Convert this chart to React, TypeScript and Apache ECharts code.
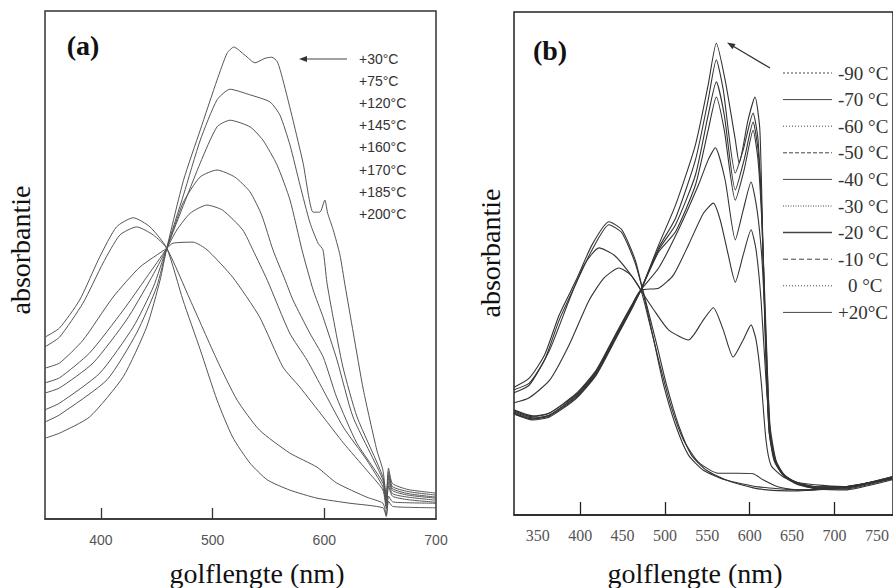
import React, { useEffect, useRef } from 'react';
import * as echarts from 'echarts';

// ---------- Panel (a): heating, wavelength (nm) vs absorbance (a.u.) ----------
const labelsA = ['+30°C', '+75°C', '+120°C', '+145°C', '+160°C', '+170°C', '+185°C', '+200°C'];
const ticksA = [400, 500, 600];
const tickLabelsA = [400, 500, 600, 700];

const a30 = [[350,15.9],[363,16.9],[390,20.1],[420,28.0],[441,37.8],[453,47.0],[459,53.3],[474,66.7],[489,76.6],[504,86.4],[513,91.7],[519,92.9],[529,91.3],[538,89.8],[547,90.7],[553,90.9],[558,90.0],[563,86.4],[572,78.5],[581,70.1],[590,60.4],[596,60.4],[600.5,62.8],[603,60.2],[608,56.9],[614,52.0],[618.5,46.1],[626,36.6],[635,25.4],[647,13.6],[652.5,9.6],[655.5,4.5],[657.5,10.0],[661,7.0],[675,5.8],[700,5.1]];
const a75 = [[350,19.1],[363,20.5],[405.5,27.4],[432,36.6],[450,45.7],[459,53.3],[474,63.8],[489,74.6],[504,82.5],[515.6,84.6],[533.5,83.5],[551.4,82.1],[560.3,79.5],[569.3,73.6],[578.3,65.7],[587.2,58.3],[594.4,54.3],[598.8,53.0],[602.4,46.5],[607.8,39.8],[616.7,29.9],[629.3,20.1],[652.5,8.3],[655.5,3.8],[657.5,9.3],[661,6.4],[675,5.4],[700,4.7]];
const a120 = [[350,21.5],[363,22.8],[399,28.7],[429,37.8],[447,45.7],[459,53.3],[489,70.1],[504,77.2],[515.6,78.5],[533.5,77.2],[545,74.6],[557.7,69.7],[569.3,62.8],[580,53.0],[590,45.1],[598.8,39.8],[611.4,31.3],[625.7,20.1],[652.5,7.7],[655.5,3.4],[657.5,8.6],[661,6.0],[675,5.0],[700,4.3]];
const a145 = [[350,24.8],[363,25.8],[393,30.7],[423,39.2],[444,47.0],[459,53.3],[473.5,62.2],[488.7,67.3],[504,68.7],[520,67.3],[533.5,64.4],[544,59.8],[554,53.0],[565,47.0],[572,43.1],[587,36.6],[599,31.9],[611,24.0],[629,15.0],[652.5,7.1],[655.5,3.0],[657.5,8.0],[661,5.6],[675,4.7],[700,4.1]];
const a160 = [[350,26.8],[363,27.8],[390,32.7],[420,41.1],[441,47.6],[459,53.3],[468,56.9],[480,60.2],[495,61.8],[509,60.8],[527,56.9],[536,53.0],[549,47.0],[569,36.6],[584.5,31.3],[599,25.4],[617,18.1],[638,11.6],[652.5,6.3],[655.5,2.5],[657.5,7.2],[661,5.0],[675,4.3],[700,3.7]];
const a170 = [[350,29.7],[363,30.7],[384,35.2],[411,43.7],[435,49.6],[459,53.3],[464.6,54.3],[482.5,54.5],[495,53.0],[518,47.6],[542,39.8],[563,29.9],[578,26.0],[599,20.1],[617,15.0],[638,9.6],[652.5,5.7],[655.5,2.0],[657.5,6.5],[661,4.5],[675,3.8],[700,3.3]];
const a185 = [[350,33.9],[363,35.8],[384,42.5],[402,50.4],[417,55.9],[432,57.5],[447,55.9],[459,53.3],[480,43.1],[504,31.3],[522,23.4],[542,17.5],[569,13.0],[593.5,10.2],[611,7.1],[638,4.3],[652.5,3.1],[655.5,0.8],[657.5,4.5],[661,3.4],[675,3.2],[700,3.1]];
const a200 = [[350,35.8],[363,37.6],[381,43.1],[399,51.6],[414,57.5],[429,59.3],[444,57.5],[459,53.3],[473.5,43.1],[489,33.3],[504,23.4],[518,16.1],[533.5,11.0],[549,7.7],[569,5.7],[593.5,4.1],[623,3.1],[652.5,2.2],[655.5,0.5],[657.5,3.5],[661,2.5],[675,2.3],[700,2.2]];
const seriesA = [a30, a75, a120, a145, a160, a170, a185, a200];

// ---------- Panel (b): cooling, wavelength (nm) vs absorbance (a.u.) ----------
const labelsB = ['-90 °C', '-70 °C', '-60 °C', '-50 °C', '-40 °C', '-30 °C', '-20 °C', '-10 °C', '0 °C', '+20°C'];
const ticksB = [400, 500, 600, 700];
const tickLabelsB = [350, 400, 450, 500, 550, 600, 650, 700, 750];

const bm90 = [[322,20.9],[344,19.7],[364,20.3],[395,23.9],[419,28.6],[442,35.8],[461,41.6],[471.5,44.7],[492.6,53.7],[512.5,61.6],[536,73.6],[551,85.5],[560.6,93.8],[571,86.5],[583,74.6],[587.6,70.0],[598,78.5],[606.3,83.1],[612,76.5],[615.7,52.7],[619.2,32.8],[622.7,16.9],[628.6,10.9],[639,8.0],[657,6.4],[680,5.6],[715,5.6],[739,6.4],[768,7.6]];
const bm70 = [[322,20.5],[344,19.3],[364,19.9],[395,23.5],[419,28.2],[442,35.4],[461,41.4],[471.5,44.7],[492.6,53.1],[512.5,59.0],[536,70.6],[551,82.5],[560.6,90.5],[568.8,84.5],[583,68.0],[592.3,72.6],[604,79.9],[609.8,74.6],[614.5,58.6],[618,36.8],[622.7,16.9],[629.8,10.5],[640.3,7.8],[657,6.2],[680,5.4],[715,5.4],[739,6.2],[768,7.4]];
const bm60 = [[322,20.3],[344,19.1],[364,19.7],[395,23.3],[419,28.0],[442,35.2],[461,41.2],[471.5,44.7],[492.6,52.7],[512.5,57.7],[536,67.6],[551,79.5],[560.6,86.1],[570,79.5],[583,64.6],[593.4,70.6],[604,78.1],[609.8,72.6],[614.5,59.6],[618,38.8],[622.7,17.9],[629.8,10.9],[640.3,8.0],[657,6.2],[680,5.2],[715,5.2],[739,6.0],[768,7.2]];
const bm50 = [[322,20.1],[344,18.9],[364,19.5],[395,23.1],[419,27.8],[442,35.0],[461,41.0],[471.5,44.7],[492.6,52.3],[512.5,56.3],[536,65.6],[551,76.5],[560.6,83.1],[570,76.5],[583,62.6],[593.4,68.6],[604,76.5],[609.8,70.6],[614.5,57.7],[619.2,36.8],[623.9,16.9],[630.9,10.5],[641.5,7.6],[657,6.0],[680,5.2],[715,5.0],[739,5.8],[768,7.0]];
const bm40 = [[322,20.1],[344,19.1],[364,19.9],[395,23.7],[419,28.4],[442,35.6],[461,41.4],[471.5,44.7],[492.6,49.1],[516,56.7],[539.5,65.6],[551,70.6],[559.4,73.0],[571,66.6],[583,54.7],[592.3,60.6],[601.6,66.2],[608.7,60.6],[614.5,50.7],[619.2,34.8],[623.9,17.9],[630.9,10.9],[641.5,7.8],[657,6.2],[680,5.4],[715,5.4],[739,6.2],[768,7.4]];
const bm30 = [[322,20.7],[344,19.5],[364,20.3],[395,24.1],[419,28.8],[442,36.0],[461,41.8],[471.5,44.7],[492.6,45.1],[510,47.7],[527.8,53.7],[545.4,60.0],[557.1,62.0],[565.3,58.6],[574.7,51.7],[583,46.3],[592.3,51.7],[601.6,56.7],[607.5,52.7],[613.4,42.7],[619.2,26.8],[625.1,14.9],[633.3,9.5],[645,7.4],[657,6.4],[680,5.6],[715,5.6],[739,6.4],[768,7.6]];
const bm20 = [[322,22.3],[340,23.3],[364,26.8],[387,33.8],[410.6,42.7],[428,47.1],[445.7,49.1],[459.8,47.7],[471.5,44.7],[486.8,40.8],[504.3,36.8],[527.8,34.8],[545.4,38.8],[557.1,41.2],[568.8,36.8],[580.5,31.4],[592.3,34.8],[601.6,37.8],[607.5,34.8],[613.4,26.8],[619.2,14.9],[625.1,9.9],[639.2,7.6],[657,6.4],[715,5.6],[768,7.6]];
const bm10 = [[322,24.3],[340,25.8],[364,32.8],[387,42.7],[404.7,49.7],[422.3,53.1],[439.9,51.7],[457.4,48.3],[471.5,44.7],[480.9,38.8],[492.6,30.8],[506.7,21.9],[521.9,14.9],[539.5,10.5],[563,8.3],[586.4,8.3],[604,8.2],[615.7,7.0],[633.3,5.6],[657,5.0],[704,5.4],[768,7.2]];
const b0 = [[322,24.9],[340,26.2],[358,30.8],[375.4,38.8],[395.3,46.1],[414,52.7],[434,57.7],[449.2,56.1],[465.7,49.7],[489,34.8],[502,25.8],[516,17.9],[531.3,11.9],[549,8.9],[574.7,6.8],[610,5.2],[657,4.8],[704,5.4],[768,7.2]];
const bp20 = [[322,25.4],[340,27.2],[358,31.8],[375.4,39.8],[395.3,46.7],[414,53.7],[434,58.3],[449.2,56.7],[465.7,50.3],[486.8,34.8],[498.5,25.8],[512.5,17.9],[527.8,11.9],[545.4,8.9],[571,7.0],[610,5.6],[657,5.0],[704,5.4],[768,7.2]];
const seriesB = [bm90, bm70, bm60, bm50, bm40, bm30, bm20, bm10, b0, bp20];
const dashB: (number[] | null)[] = [[2, 2], null, [1, 2], [4, 2], null, [1, 1.5], null, [5, 3], [1, 2], null];

export default function App() {
  const ref = useRef<HTMLDivElement>(null);
  useEffect(() => {
    document.body.style.margin = '0';
    const chart = echarts.init(ref.current!, null, { renderer: 'svg' });
    const serif = '"Liberation Serif", "Times New Roman", serif';
    const sans = '"Liberation Sans", Arial, sans-serif';

    const series: any[] = [];
    seriesA.forEach((d, i) => series.push({
      name: labelsA[i], type: 'line', xAxisIndex: 0, yAxisIndex: 0, data: d,
      showSymbol: false, smooth: 0.2, lineStyle: { color: '#555', width: 1 }, silent: true,
    }));
    seriesB.forEach((d, i) => series.push({
      name: labelsB[i], type: 'line', xAxisIndex: 1, yAxisIndex: 1, data: d,
      showSymbol: false, smooth: 0.2, lineStyle: { color: '#333', width: 1.1 }, silent: true,
    }));

    const graphic: any[] = [];
    const txt = (text: string, x: number, y: number, size: number, family: string, extra: any = {}) => ({
      type: 'text', x, y, silent: true,
      style: { text, fontSize: size, fontFamily: family, fill: '#111', textAlign: 'center', textVerticalAlign: 'middle', ...extra },
    });
    graphic.push(txt('(a)', 83, 45, 28, serif, { fontWeight: 'bold' }));
    graphic.push(txt('(b)', 550, 50, 28, serif, { fontWeight: 'bold' }));
    graphic.push({ ...txt('absorbantie', 20, 250, 28, serif), rotation: Math.PI / 2 });
    graphic.push({ ...txt('absorbantie', 490, 253, 28, serif), rotation: Math.PI / 2 });
    graphic.push(txt('golflengte (nm)', 257, 573, 28, serif));
    graphic.push(txt('golflengte (nm)', 695, 573, 28, serif));

    // legend (a)
    graphic.push({ type: 'line', silent: true, shape: { x1: 347, y1: 59, x2: 304, y2: 59 }, style: { stroke: '#444', lineWidth: 1.2 } });
    graphic.push({ type: 'polygon', silent: true, shape: { points: [[299, 59], [307, 56], [307, 62]] }, style: { fill: '#333' } });
    labelsA.forEach((l, i) => graphic.push(txt(l, 359, 59 + 22.1 * i, 14, sans, { textAlign: 'left', fill: '#333' })));

    // legend (b)
    graphic.push({ type: 'line', silent: true, shape: { x1: 770, y1: 68, x2: 732, y2: 45.5 }, style: { stroke: '#333', lineWidth: 1.3 } });
    graphic.push({ type: 'polygon', silent: true, shape: { points: [[727, 42.5], [735.5, 44], [732.5, 49.2]] }, style: { fill: '#333' } });
    labelsB.forEach((l, i) => {
      const y = 73 + 26.6 * i;
      graphic.push({ type: 'line', silent: true, shape: { x1: 783, y1: y, x2: 832, y2: y },
        style: { stroke: '#444', lineWidth: i === 6 ? 1.5 : 1, lineDash: dashB[i] || undefined } });
      graphic.push(txt(l, l === '0 °C' ? 848 : 838, y, 19, serif, { textAlign: 'left', fill: '#333' }));
    });

    const option: any = {
      animation: false,
      backgroundColor: '#fff',
      grid: [
        { left: 45, top: 11, width: 391, height: 508, show: true, borderColor: '#333', borderWidth: 1.5 },
        { left: 514, top: 12, width: 382, height: 503, show: true, borderColor: '#222', borderWidth: 1.5 },
      ],
      xAxis: [
        {
          gridIndex: 0, type: 'value', min: 350, max: 700,
          axisLine: { show: true, lineStyle: { color: '#333', width: 1.5 } },
          axisTick: { show: true, inside: true, length: 11, customValues: ticksA, lineStyle: { color: '#333', width: 1.3 } },
          axisLabel: { customValues: tickLabelsA, margin: 14, fontSize: 14, color: '#555', fontFamily: sans },
          splitLine: { show: false },
        },
        {
          gridIndex: 1, type: 'value', min: 322, max: 769,
          axisLine: { show: true, lineStyle: { color: '#222', width: 1.5 } },
          axisTick: { show: true, inside: true, length: 13, customValues: ticksB, lineStyle: { color: '#222', width: 1.3 } },
          axisLabel: { customValues: tickLabelsB, margin: 12, fontSize: 16, color: '#555', fontFamily: serif },
          splitLine: { show: false },
        },
      ],
      yAxis: [
        { gridIndex: 0, type: 'value', min: 0, max: 100, show: false },
        { gridIndex: 1, type: 'value', min: 0, max: 100, show: false },
      ],
      series,
      graphic,
    };
    chart.setOption(option);
    return () => chart.dispose();
  }, []);
  return <div ref={ref} style={{ width: 893, height: 588 }} />;
}
